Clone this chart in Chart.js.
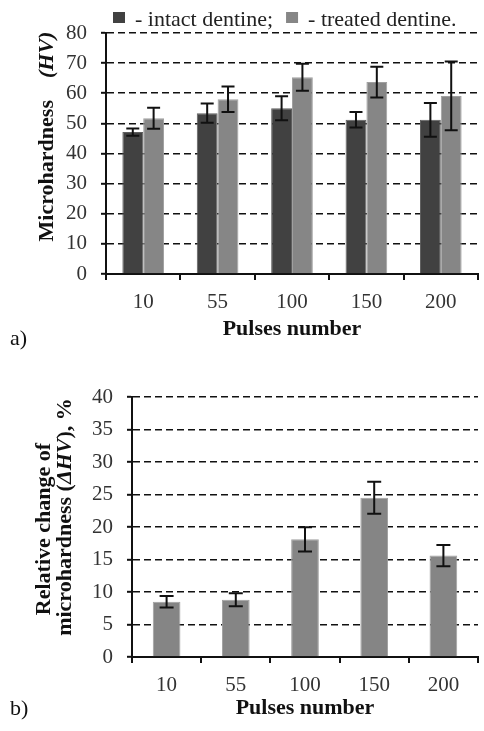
<!DOCTYPE html>
<html>
<head>
<meta charset="utf-8">
<script src="https://cdn.jsdelivr.net/npm/chart.js@4.4.0/dist/chart.umd.min.js"></script>
<style>
  html, body { margin: 0; padding: 0; background: #fff; }
  body { width: 484px; height: 731px; position: relative; overflow: hidden; font-family: "Liberation Serif", serif; }
  .panel { position: absolute; left: 0; width: 484px; }
  #top { top: 0; height: 350px; }
  #bottom { top: 360px; height: 371px; }
  .tag { position: absolute; left: 10px; font-size: 22px; line-height: 22px; color: #111; }
</style>
</head>
<body>
<div class="panel" id="top"><canvas id="chartA"></canvas></div>
<div class="panel" id="bottom"><canvas id="chartB"></canvas></div>
<div class="tag" style="top:327px">a)</div>
<div class="tag" style="top:697px">b)</div>

<script>
// values (HV and relative change, %)
const pulses = ["10", "55", "100", "150", "200"];
const intactHV = [47.1, 53.4, 55.0, 51.2, 51.2];
const intactErr = [1.2, 3.2, 4.0, 2.6, 5.6];
const treatedHV = [51.7, 58.0, 65.3, 63.7, 59.1];
const treatedErr = [3.5, 4.2, 4.5, 5.1, 11.4];
const deltaHV = [8.5, 8.8, 18.1, 24.5, 15.6];
const deltaErr = [0.9, 1.0, 1.85, 2.45, 1.65];

const SERIF = "'Liberation Serif', 'Times New Roman', serif";
const INK = "#111";

// error bars drawn from each bar element's x and the y scale
const errorBars = {
  id: "errorBars",
  afterDatasetsDraw(chart, args, opts) {
    const { ctx } = chart;
    const y = chart.scales.y;
    const w = opts.cap / 2;
    ctx.save();
    ctx.strokeStyle = INK;
    ctx.lineWidth = 2;
    chart.data.datasets.forEach((ds, i) => {
      if (!ds.errors) return;
      chart.getDatasetMeta(i).data.forEach((bar, j) => {
        const hi = y.getPixelForValue(ds.data[j] + ds.errors[j]);
        const lo = y.getPixelForValue(ds.data[j] - ds.errors[j]);
        ctx.beginPath();
        ctx.moveTo(bar.x, hi); ctx.lineTo(bar.x, lo);
        ctx.moveTo(bar.x - w, hi); ctx.lineTo(bar.x + w, hi);
        ctx.moveTo(bar.x - w, lo); ctx.lineTo(bar.x + w, lo);
        ctx.stroke();
      });
    });
    ctx.restore();
  },
};

// rotated y title with mixed upright / italic parts
const sideTitle = {
  id: "sideTitle",
  afterDraw(chart, args, opts) {
    if (!opts.lines) return;
    const { ctx, chartArea } = chart;
    const mid = (chartArea.top + chartArea.bottom) / 2;
    ctx.save();
    ctx.fillStyle = INK;
    ctx.textBaseline = "alphabetic";
    ctx.textAlign = "left";
    opts.lines.forEach(line => {
      let total = 0;
      line.parts.forEach(p => { ctx.font = p.font; total += ctx.measureText(p.text).width; });
      ctx.save();
      ctx.translate(chartArea.left - line.offset, mid + line.shift);
      ctx.rotate(-Math.PI / 2);
      let x = -total / 2;
      line.parts.forEach(p => {
        ctx.font = p.font;
        ctx.fillText(p.text, x, 0);
        x += ctx.measureText(p.text).width;
      });
      ctx.restore();
    });
    ctx.restore();
  },
};

// "■ - label;" legend row above the plot
const boxLegend = {
  id: "boxLegend",
  afterDraw(chart, args, opts) {
    if (!opts.show) return;
    const { ctx, chartArea } = chart;
    ctx.save();
    ctx.font = opts.font;
    ctx.textBaseline = "alphabetic";
    let x = chartArea.left + opts.inset;
    chart.data.datasets.forEach((ds, i) => {
      ctx.fillStyle = ds.backgroundColor;
      ctx.fillRect(x, opts.boxTop, 12, 11);
      x += 12 + opts.gap;
      const txt = "- " + ds.label + opts.ends[i];
      ctx.fillStyle = "#222";
      ctx.fillText(txt, x, opts.baseline);
      x += ctx.measureText(txt).width + opts.spacing;
    });
    ctx.restore();
  },
};

function axes(yMax, yStep, yWidth, xHeight, titlePadBottom, tickPad) {
  return {
    x: {
      grid: { drawOnChartArea: false, drawTicks: true, tickLength: 6, color: INK, lineWidth: 2, offset: true },
      border: { color: INK, width: 2 },
      ticks: { color: "#333", font: { family: SERIF, size: 21 }, padding: tickPad },
      title: {
        display: true, text: "Pulses number", color: INK,
        font: { family: SERIF, size: 22, weight: "bold" },
        padding: { top: 0, bottom: titlePadBottom },
      },
      afterFit: s => { s.height = xHeight; },
    },
    y: {
      min: 0, max: yMax,
      ticks: { stepSize: yStep, color: "#333", font: { family: SERIF, size: 21 }, padding: 14 },
      grid: { color: INK, lineWidth: 1.6, tickLength: 5, tickWidth: 2, tickBorderDash: [] },
      border: { color: INK, width: 2, dash: [7, 4] },
      afterFit: s => { s.width = yWidth; },
    },
  };
}

const common = {
  responsive: true,
  maintainAspectRatio: false,
  animation: false,
  events: [],
};

new Chart(document.getElementById("chartA"), {
  type: "bar",
  data: {
    labels: pulses,
    datasets: [
      { label: "intact dentine", data: intactHV, errors: intactErr,
        backgroundColor: "#414141", borderColor: "#5e5e5e", borderWidth: 1 },
      { label: "treated dentine", data: treatedHV, errors: treatedErr,
        backgroundColor: "#868686", borderColor: "#a0a0a0", borderWidth: 1 },
    ],
  },
  options: {
    ...common,
    layout: { padding: { top: 33, right: 6, left: 0, bottom: 0 } },
    datasets: { bar: { categoryPercentage: 0.56, barPercentage: 1 } },
    plugins: {
      legend: { display: false },
      tooltip: { enabled: false },
      errorBars: { cap: 13 },
      boxLegend: {
        show: true, font: "22px " + SERIF, inset: 7, boxTop: 12, baseline: 26,
        gap: 10, spacing: 13, ends: [";", "."],
      },
      sideTitle: {
        lines: [{
          offset: 53.5, shift: -17,
          parts: [
            { text: "Microhardness    ", font: "bold 22px " + SERIF },
            { text: "(HV)", font: "italic bold 22px " + SERIF },
          ],
        }],
      },
    },
    scales: axes(80, 10, 106, 76, 7, 10),
  },
  plugins: [errorBars, sideTitle, boxLegend],
});

new Chart(document.getElementById("chartB"), {
  type: "bar",
  data: {
    labels: pulses,
    datasets: [
      { label: "relative change", data: deltaHV, errors: deltaErr,
        backgroundColor: "#858585", borderColor: "#a0a0a0", borderWidth: 1 },
    ],
  },
  options: {
    ...common,
    layout: { padding: { top: 37, right: 6, left: 0, bottom: 0 } },
    datasets: { bar: { categoryPercentage: 0.4, barPercentage: 1 } },
    plugins: {
      legend: { display: false },
      tooltip: { enabled: false },
      errorBars: { cap: 14 },
      boxLegend: { show: false },
      sideTitle: {
        lines: [
          { offset: 82, shift: 2, parts: [{ text: "Relative change of", font: "bold 22px " + SERIF }] },
          { offset: 61, shift: -10, parts: [
            { text: "microhardness (", font: "bold 22px " + SERIF },
            { text: "ΔHV", font: "italic bold 22px " + SERIF },
            { text: "), %", font: "bold 22px " + SERIF },
          ] },
        ],
      },
    },
    scales: axes(40, 5, 132, 74, 9, 10),
  },
  plugins: [errorBars, sideTitle, boxLegend],
});
</script>
</body>
</html>
